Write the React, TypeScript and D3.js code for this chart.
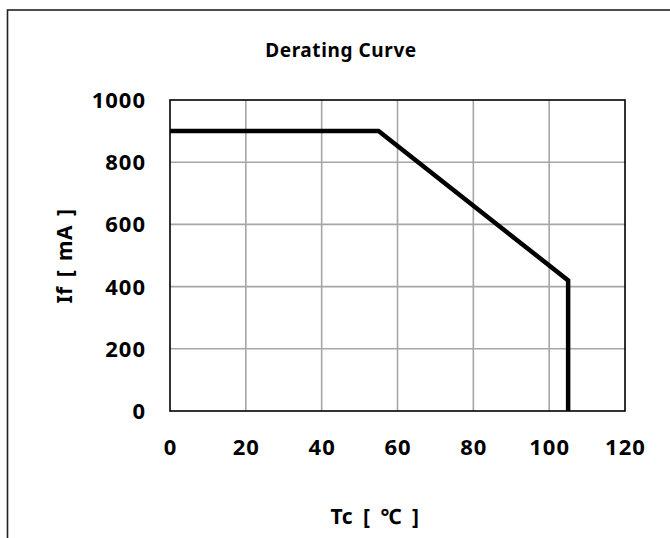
import * as d3 from "d3";
import React from "react";

// derating curve points: case temperature (°C) vs forward current (mA)
const tempC = [0, 55, 105, 105];
const currentMA = [900, 900, 420, 0];

const xTicks = [0, 20, 40, 60, 80, 100, 120];
const yTicks = [0, 200, 400, 600, 800, 1000];

const W = 670;
const H = 538;
const plot = { left: 170, top: 100, right: 625, bottom: 411 };
const font = "'Noto Sans', 'Open Sans', sans-serif";

export default function App() {
  const x = d3.scaleLinear().domain([0, 120]).range([plot.left, plot.right]);
  const y = d3.scaleLinear().domain([0, 1000]).range([plot.bottom, plot.top]);

  const line = d3
    .line<number>()
    .x((_, i) => x(tempC[i]))
    .y((d) => y(d));

  return (
    <svg width={W} height={H} style={{ position: "absolute", left: 0, top: 0, background: "#fff" }}>
      {/* outer chart frame, runs off the right and bottom edges */}
      <rect x={7.5} y={10} width={W + 20} height={H + 20} fill="#fff" stroke="#222" strokeWidth={1.6} />

      <text
        x={341}
        y={57}
        textAnchor="middle"
        fontFamily={font}
        fontWeight="bold"
        fontSize={19}
        letterSpacing={0.6}
        fill="#000"
      >
        Derating Curve
      </text>

      {/* grid */}
      {xTicks.slice(1, -1).map((t) => (
        <line key={"gx" + t} x1={x(t)} x2={x(t)} y1={plot.top} y2={plot.bottom} stroke="#a6a6a6" strokeWidth={1.6} />
      ))}
      {yTicks.slice(1, -1).map((t) => (
        <line key={"gy" + t} x1={plot.left} x2={plot.right} y1={y(t)} y2={y(t)} stroke="#a6a6a6" strokeWidth={1.6} />
      ))}
      <rect
        x={plot.left}
        y={plot.top}
        width={plot.right - plot.left}
        height={plot.bottom - plot.top}
        fill="none"
        stroke="#000"
        strokeWidth={1.6}
      />

      <path d={line(currentMA) || ""} fill="none" stroke="#000" strokeWidth={4.5} strokeLinejoin="miter" />

      {/* tick labels */}
      {yTicks.map((t) => (
        <text
          key={"ty" + t}
          x={plot.left - 24}
          y={y(t)}
          dy="0.36em"
          textAnchor="end"
          fontFamily={font}
          fontWeight="bold"
          fontSize={22}
          letterSpacing={1}
          fill="#000"
        >
          {t}
        </text>
      ))}
      {xTicks.map((t) => (
        <text
          key={"tx" + t}
          x={x(t) + 0.5}
          y={447}
          dy="0.36em"
          textAnchor="middle"
          fontFamily={font}
          fontWeight="bold"
          fontSize={22}
          letterSpacing={1}
          fill="#000"
        >
          {t}
        </text>
      ))}

      {/* axis titles */}
      <text
        transform={`translate(64, 256) rotate(-90)`}
        dy="0.36em"
        textAnchor="middle"
        fontFamily={font}
        fontWeight="bold"
        fontSize={21}
        letterSpacing={0.5}
        wordSpacing={3}
        fill="#000"
      >
        If [ mA ]
      </text>
      <text
        x={375}
        y={516}
        dy="0.36em"
        textAnchor="middle"
        fontFamily={font}
        fontWeight="bold"
        fontSize={21}
        letterSpacing={0.5}
        wordSpacing={4}
        fill="#000"
      >
        Tc [ ℃ ]
      </text>
    </svg>
  );
}
